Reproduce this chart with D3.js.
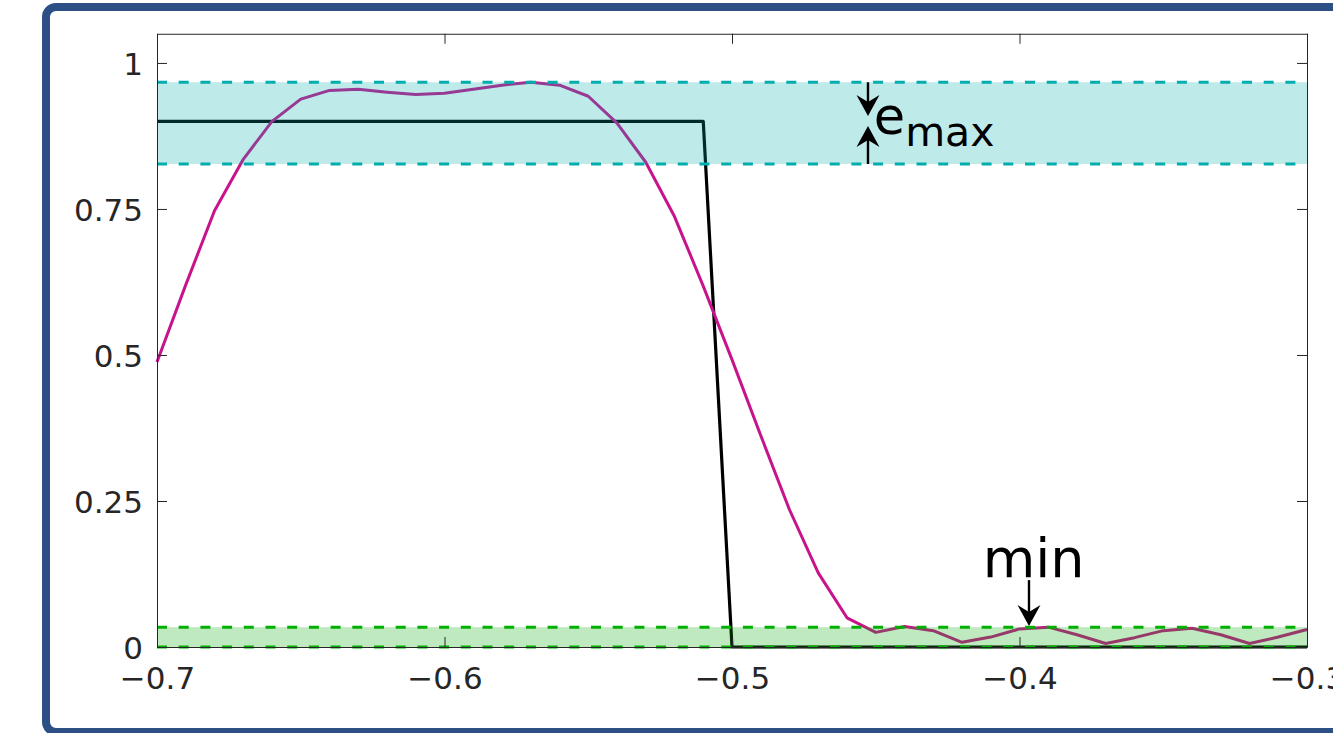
<!DOCTYPE html>
<html>
<head>
<meta charset="utf-8">
<script src="https://cdn.jsdelivr.net/npm/d3@7"></script>
<style>
  body { margin: 0; background: #fff; }
  svg { display: block; }
</style>
</head>
<body>
<svg width="1333" height="733"></svg>
<script>
// sample grid of the filter response
var gridX = [-0.70, -0.69, -0.68, -0.67, -0.66, -0.65, -0.64, -0.63, -0.62, -0.61,
             -0.60, -0.59, -0.58, -0.57, -0.56, -0.55, -0.54, -0.53, -0.52, -0.51,
             -0.50, -0.49, -0.48, -0.47, -0.46, -0.45, -0.44, -0.43, -0.42, -0.41,
             -0.40, -0.39, -0.38, -0.37, -0.36, -0.35, -0.34, -0.33, -0.32, -0.31, -0.30];
var response = [0.488, 0.620, 0.747, 0.835, 0.900, 0.938, 0.953, 0.955, 0.950, 0.946,
                0.948, 0.955, 0.962, 0.967, 0.962, 0.943, 0.897, 0.830, 0.737, 0.618,
                0.492, 0.362, 0.235, 0.127, 0.050, 0.025, 0.035, 0.028, 0.008, 0.017,
                0.031, 0.034, 0.021, 0.006, 0.016, 0.028, 0.032, 0.021, 0.006, 0.017, 0.030];

// ideal (target) response
var targetX = [-0.70, -0.51, -0.50, -0.30];
var targetY = [0.9, 0.9, 0, 0];

// tolerance bands
var passBand = [0.827, 0.967];
var stopBand = [0, 0.034];

var xTicks = [-0.7, -0.6, -0.5, -0.4, -0.3];
var xTickLabels = ["\u22120.7", "\u22120.6", "\u22120.5", "\u22120.4", "\u22120.3"];
var yTicks = [0, 0.25, 0.5, 0.75, 1];
var yTickLabels = ["0", "0.25", "0.5", "0.75", "1"];

var svg = d3.select("svg");

// outer frame
svg.append("rect")
    .attr("x", 46).attr("y", 7)
    .attr("width", 1330).attr("height", 725)
    .attr("rx", 10)
    .attr("fill", "#fff")
    .attr("stroke", "#2c4f85")
    .attr("stroke-width", 8);

var x = d3.scaleLinear().domain([-0.7, -0.3]).range([157, 1307]);
var y = d3.scaleLinear().domain([0, 1.05]).range([647, 33.75]);

var plot = svg.append("g");

var line = d3.line()
    .x(function(d) { return x(d[0]); })
    .y(function(d) { return y(d[1]); });

// target
plot.append("path")
    .datum(d3.zip(targetX, targetY))
    .attr("fill", "none")
    .attr("stroke", "#000")
    .attr("stroke-width", 3.2)
    .attr("stroke-linejoin", "round")
    .attr("d", line);

// response
plot.append("path")
    .datum(d3.zip(gridX, response))
    .attr("fill", "none")
    .attr("stroke", "#c8148c")
    .attr("stroke-width", 3)
    .attr("stroke-linejoin", "round")
    .attr("d", line);

// bands (translucent, on top of the lines)
var bands = [
  {lim: passBand, col: "#00aaaa", dash: "#00adad"},
  {lim: stopBand, col: "#00aa00", dash: "#00b000"}
];
bands.forEach(function(b) {
  plot.append("rect")
      .attr("x", x(-0.7))
      .attr("width", x(-0.3) - x(-0.7))
      .attr("y", y(b.lim[1]))
      .attr("height", y(b.lim[0]) - y(b.lim[1]))
      .attr("fill", b.col)
      .attr("fill-opacity", 0.25);
  b.lim.forEach(function(v) {
    plot.append("line")
        .attr("x1", x(-0.7)).attr("x2", x(-0.3))
        .attr("y1", y(v)).attr("y2", y(v))
        .attr("stroke", b.dash)
        .attr("stroke-width", 3)
        .attr("stroke-dasharray", "10 11.7");
  });
});

// axes, ticks pointing inward on all four sides
function styleAxis(g) {
  g.selectAll("path, line").attr("stroke", "#262626").attr("stroke-width", 1);
  g.selectAll("text")
      .attr("fill", "#262626")
      .style("font-family", "DejaVu Sans, sans-serif")
      .style("font-size", "31px");
}

svg.append("g")
    .attr("transform", "translate(0," + y(0) + ")")
    .call(d3.axisBottom(x).tickValues(xTicks)
      .tickFormat(function(d, i) { return xTickLabels[i]; })
      .tickSizeInner(-10).tickSizeOuter(0).tickPadding(20))
    .call(styleAxis);

svg.append("g")
    .attr("transform", "translate(0," + y(1.05) + ")")
    .call(d3.axisTop(x).tickValues(xTicks).tickFormat("")
      .tickSizeInner(-10).tickSizeOuter(0))
    .call(styleAxis);

svg.append("g")
    .attr("transform", "translate(" + x(-0.7) + ",0)")
    .call(d3.axisLeft(y).tickValues(yTicks)
      .tickFormat(function(d, i) { return yTickLabels[i]; })
      .tickSizeInner(-10).tickSizeOuter(0).tickPadding(14))
    .call(styleAxis)
    .selectAll("text").attr("dy", "0.38em");

svg.append("g")
    .attr("transform", "translate(" + x(-0.3) + ",0)")
    .call(d3.axisRight(y).tickValues(yTicks).tickFormat("")
      .tickSizeInner(-10).tickSizeOuter(0))
    .call(styleAxis);

// annotations
function arrow(xv, fromV, tipV) {
  var px = x(xv), p0 = y(fromV), p1 = y(tipV);
  var dir = p1 > p0 ? 1 : -1;
  var L = 21, W = 11.5, notch = 7;
  svg.append("line")
      .attr("x1", px).attr("x2", px)
      .attr("y1", p0).attr("y2", p1 - dir * (L - notch))
      .attr("stroke", "#000").attr("stroke-width", 2.4);
  svg.append("path")
      .attr("d", "M" + px + "," + p1 +
                 "L" + (px - W) + "," + (p1 - dir * L) +
                 "L" + px + "," + (p1 - dir * (L - notch)) +
                 "L" + (px + W) + "," + (p1 - dir * L) + "Z")
      .attr("fill", "#000");
}

arrow(-0.4527, 0.967, 0.909);
arrow(-0.4527, 0.827, 0.892);
arrow(-0.3967, 0.1145, 0.036);

var label = svg.append("g")
    .style("font-family", "DejaVu Sans, sans-serif")
    .attr("fill", "#000");

var emax = label.append("text")
    .attr("x", x(-0.4507)).attr("y", y(0.879))
    .style("font-size", "51px")
    .text("e");
emax.append("tspan")
    .attr("dy", 12)
    .style("font-size", "41px")
    .text("max");

label.append("text")
    .attr("x", x(-0.4128)).attr("y", y(0.120))
    .style("font-size", "54px")
    .text("min");
</script>
</body>
</html>
